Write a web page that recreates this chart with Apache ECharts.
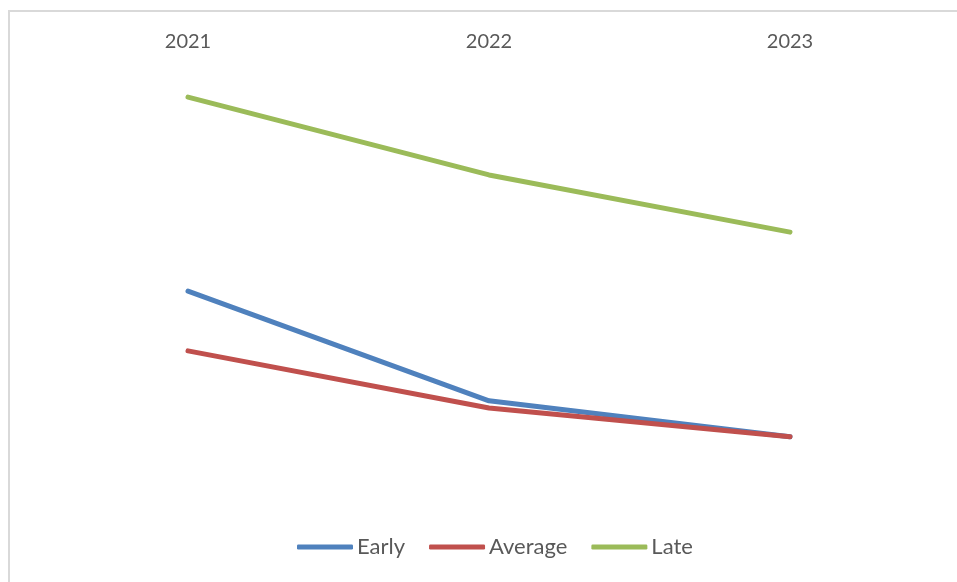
<!DOCTYPE html>
<html>
<head>
<meta charset="utf-8">
<script src="https://cdn.jsdelivr.net/npm/echarts@6/dist/echarts.min.js"></script>
<style>
html,body{margin:0;padding:0;background:#fff;}
#chart{width:957px;height:582px;}
</style>
</head>
<body>
<div id="chart"></div>
<script>
const categories = ['2021', '2022', '2023'];
const early = [49.1, 24.7, 16.7];
const average = [35.8, 23.1, 16.7];
const late = [92.2, 74.9, 62.2];

const chart = echarts.init(document.getElementById('chart'), null, {renderer: 'canvas'});
const font = 'Lato, "Open Sans", sans-serif';
const mkSeries = (name, data, color) => ({
  name, type: 'line', data, symbol: 'none', smooth: false,
  lineStyle: {width: 5, color, cap: 'round'},
  itemStyle: {color}
});
chart.setOption({
  animation: false,
  backgroundColor: '#fff',
  graphic: [{
    type: 'rect', shape: {x: 9, y: 11, width: 1000, height: 1000},
    style: {fill: 'none', stroke: '#d9d9d9', lineWidth: 2}, silent: true
  }],
  grid: {left: 37.5, right: 16.5, top: 62, bottom: 70},
  xAxis: {
    type: 'category', data: categories, position: 'top', boundaryGap: true,
    axisLine: {show: false}, axisTick: {show: false},
    axisLabel: {color: '#595959', fontSize: 20, fontFamily: font, margin: 10},
    splitLine: {show: false}
  },
  yAxis: {
    type: 'value', min: 0, max: 100, show: false, splitLine: {show: false}
  },
  legend: {
    bottom: 19, left: 297, padding: [5, 0, 5, 0],
    icon: 'roundRect', itemWidth: 56, itemHeight: 5, itemGap: 24,
    textStyle: {color: '#595959', fontSize: 22, fontFamily: font, padding: [0, 0, 0, -1]},
    data: ['Early', 'Average', 'Late']
  },
  series: [
    mkSeries('Early', early, '#4F81BD'),
    mkSeries('Average', average, '#C0504D'),
    mkSeries('Late', late, '#9BBB59')
  ]
});
</script>
</body>
</html>
